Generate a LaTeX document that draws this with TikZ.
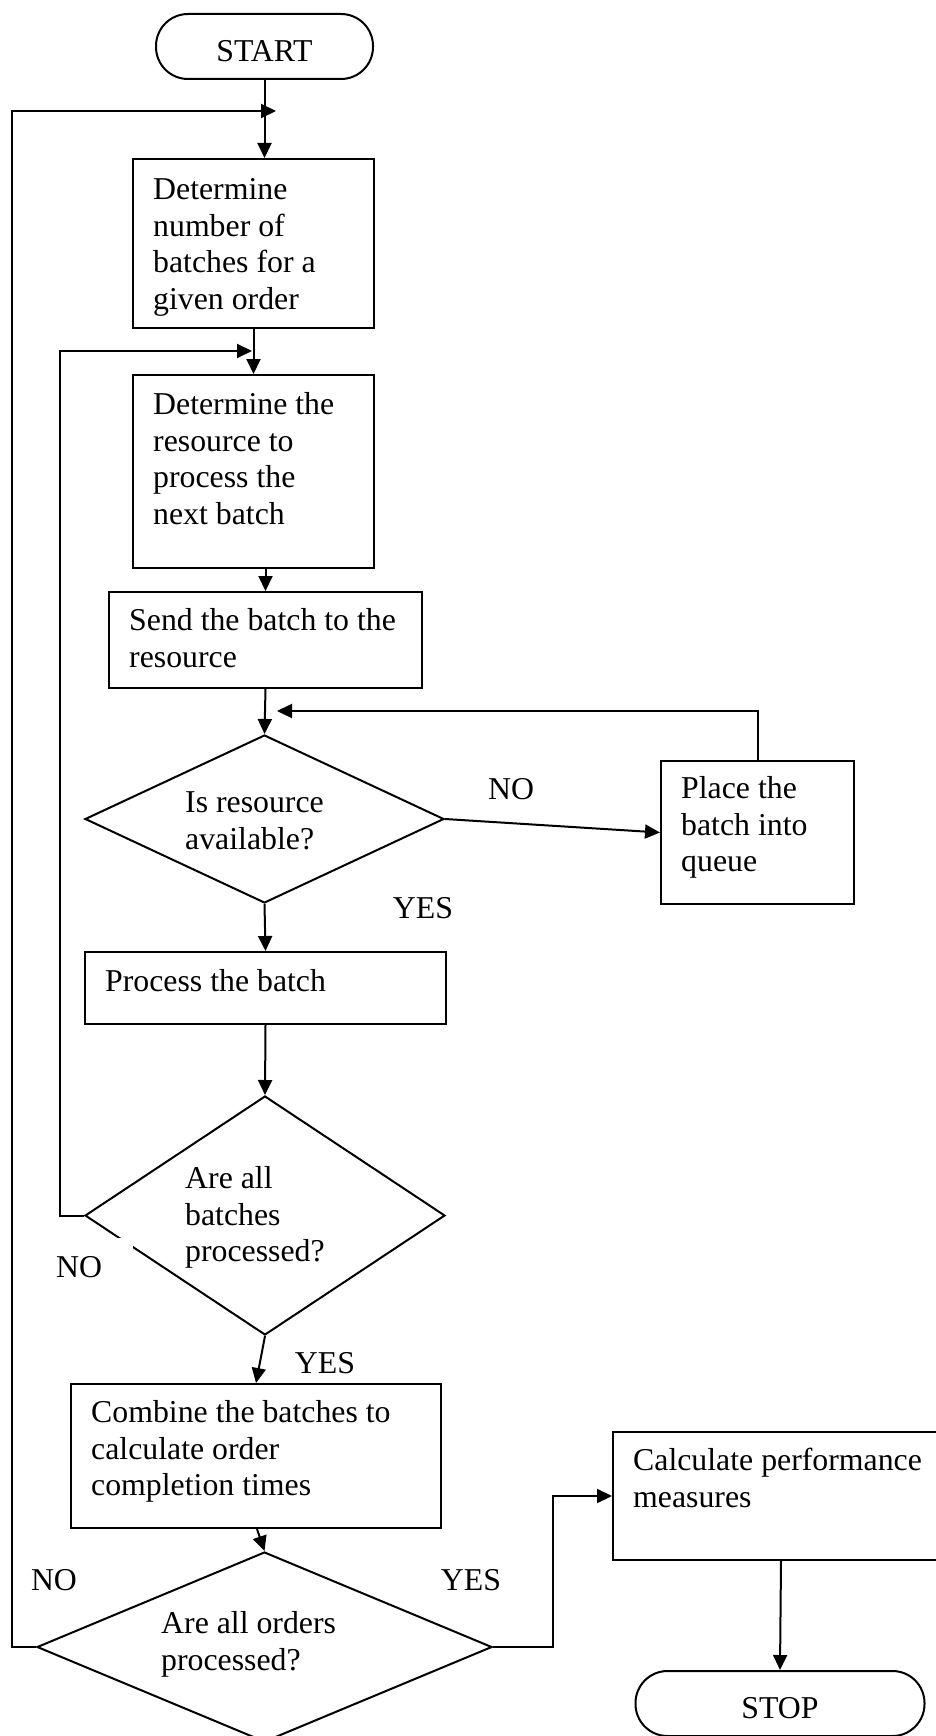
\documentclass[tikz,border=0pt]{standalone}
\usepackage{fontspec}
\setmainfont{Liberation Serif}
\usetikzlibrary{arrows.meta,shapes.geometric,calc}
% fixed height for the first line of a text block
\newcommand\firstline{\rule{0pt}{28pt}}

\begin{document}
\begin{tikzpicture}[x=1pt,y=-1pt,
  every node/.style={font=\fontsize{31.8}{36.8}\selectfont},
  line/.style={line width=2pt},
  arr/.style={line, -{Triangle[length=15pt,width=14pt]}},
  box/.style={draw, line width=2pt, rectangle, anchor=north west, inner sep=0pt},
  term/.style={draw, line width=2pt, rounded corners=32pt, inner sep=0pt,
               text height=30pt, text depth=0pt},
  decision/.style={draw, line width=2pt, diamond, inner sep=0pt},
  txt/.style={anchor=north west, inner sep=0pt, align=left},
  lbl/.style={inner sep=0pt}
]
\useasboundingbox (0,0) rectangle (936,1736);

% terminals
\node[term, minimum width=217pt, minimum height=65pt] (start) at (264.5,46.5) {START};
\node[term, minimum width=289pt, minimum height=65pt] (stop) at (780,1703.5) {STOP};

% process boxes
\node[box, minimum width=241pt, minimum height=169pt] (b1) at (132,158) {};
\node[box, minimum width=241pt, minimum height=193pt] (b2) at (132,374) {};
\node[box, minimum width=313pt, minimum height=96pt]  (b3) at (108,591) {};
\node[box, minimum width=193pt, minimum height=143pt] (b4) at (660,760) {};
\node[box, minimum width=361pt, minimum height=72pt]  (b5) at (84,951) {};
\node[box, minimum width=370pt, minimum height=144pt] (b6) at (70,1383) {};
\node[box, minimum width=336pt, minimum height=128pt] (b7) at (612,1431) {};

% decisions
\node[decision, minimum width=359pt, minimum height=168pt] (d1) at (264.5,819) {};
\node[decision, minimum width=360pt, minimum height=239pt] (d2) at (265,1215.5) {};
\node[decision, minimum width=455pt, minimum height=190pt] (d3) at (264.5,1647) {};

% texts
\node[txt] (t1) at (153,171) {\firstline Determine\\number of\\batches for a\\given order};
\node[txt] (t2) at (153,386) {\firstline Determine the\\resource to\\process the\\next batch};
\node[txt] (t3) at (129,602) {\firstline Send the batch to the\\resource};
\node[txt] (t4) at (681,770) {\firstline Place the\\batch into\\queue};
\node[txt] (t5) at (105,963) {\firstline Process the batch};
\node[txt] (td1) at (185,784) {\firstline Is resource\\available?};
\node[txt] (td2) at (185,1160) {\firstline Are all\\batches\\processed?};
\node[txt] (t6) at (91,1394) {\firstline Combine the batches to\\calculate order\\completion times};
\node[txt] (td3) at (161,1605) {\firstline Are all orders\\processed?};
\node[txt] (t7) at (633,1442) {\firstline Calculate performance\\measures};

% connectors
\coordinate (j1) at (276,111);
\coordinate (j2) at (252,351);
\coordinate (j3) at (277,711);
\draw[arr] (start) -- (start |- b1.north);
\draw[arr] (d3.west) -- (12,1647) -- (12,111) -- (j1);
\draw[arr] (b1.south) -- (b2.north);
\draw[arr] (d2.west) -- (60,1215.5) -- (60,351) -- (j2);
\draw[arr] (b2.south -| b3.north) -- (b3.north);
\draw[arr] (b3.south) -- (d1.north);
\draw[arr] (b4.north) |- (j3);
\draw[arr] (d1.east) -- (b4.west);
\draw[arr] (d1.south) -- (b5.north);
\draw[arr] (b5.south) -- (d2.north);
\draw[arr] (d2.south) -- (b6.north);
\draw[arr] ($(b6.south)+(1,0)$) -- (d3.north);
\draw[arr] (d3.east) -- (553,1647) |- (b7.west);
\draw[arr] (b7.south) -- (stop.north);

% branch labels
\node[lbl] (no1) at (511,789) {NO};
\node[lbl] (yes1) at (423,908) {YES};
\node[fill=white, inner sep=0pt, minimum width=93pt, minimum height=52pt,
      anchor=north east] (nobg) at (133,1238) {};
\node[lbl, anchor=base west] (no2) at (56,1277) {NO};
\node[lbl] (yes2) at (325,1363) {YES};
\node[lbl] (no3) at (54,1580) {NO};
\node[lbl] (yes3) at (471,1580) {YES};
\end{tikzpicture}
\end{document}
